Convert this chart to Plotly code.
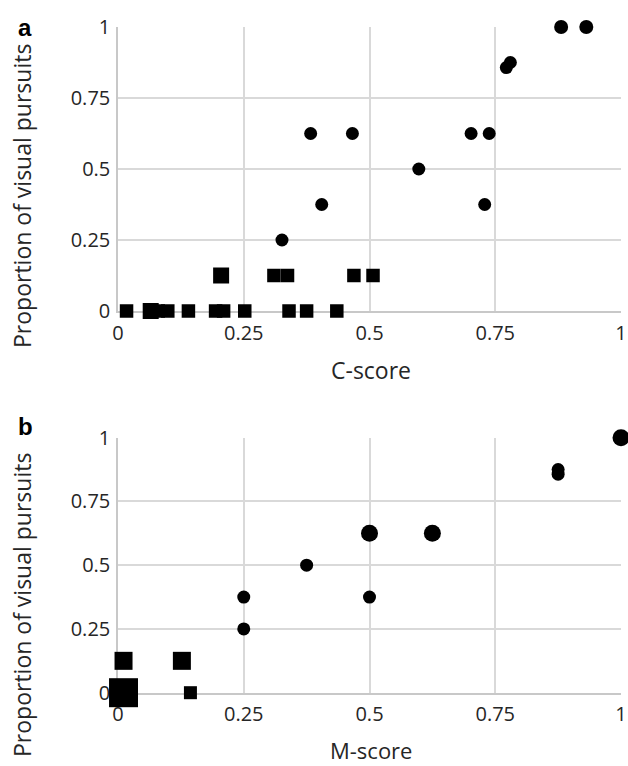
import plotly.graph_objects as go

# ---- data: panel a (C-score) ----
a_circle_x = [0.881, 0.931, 0.772, 0.780, 0.383, 0.466, 0.702, 0.738, 0.598, 0.405, 0.729, 0.326]
a_circle_y = [1.0, 1.0, 0.857, 0.875, 0.625, 0.625, 0.625, 0.625, 0.5, 0.375, 0.375, 0.25]
a_square_x = [0.205, 0.310, 0.337, 0.469, 0.507,
              0.017, 0.065, 0.080, 0.099, 0.140, 0.194, 0.210, 0.252, 0.340, 0.375, 0.435]
a_square_y = [0.125, 0.125, 0.125, 0.125, 0.125,
              0, 0, 0, 0, 0, 0, 0, 0, 0, 0, 0]

# ---- data: panel b (M-score) ----
b_circle_x = [1.0, 0.875, 0.875, 0.5, 0.625, 0.375, 0.25, 0.5, 0.25]
b_circle_y = [1.0, 0.875, 0.857, 0.625, 0.625, 0.5, 0.375, 0.375, 0.25]
b_square_x = [0.011, 0.011, 0.127, 0.144]
b_square_y = [0.0, 0.125, 0.125, 0.0]

tick_vals = [0, 0.25, 0.5, 0.75, 1]
tick_text = ["0", "0.25", "0.5", "0.75", "1"]

# ---- styles ----
a_circle_size = [14, 14, 13, 13, 13, 13, 13, 13, 13, 13, 13, 13]
a_square_size = [16, 13.5, 13.5, 13.5, 13.5,
                 13.5, 16, 13.5, 13.5, 13.5, 13.5, 13.5, 13.5, 13.5, 13.5, 13.5]
b_circle_size = [17, 13, 13, 17, 17, 13, 13, 13, 13]
b_square_size = [29, 18, 18, 13]

FONT = "Open Sans"
TXT = "#262626"
GRID = "#d9d9d9"

fig = go.Figure()

def add(x, y, sym, sizes, xa, ya):
    fig.add_trace(go.Scatter(
        x=x, y=y, mode="markers", xaxis=xa, yaxis=ya, cliponaxis=False,
        marker=dict(symbol=sym, size=sizes, color="black", opacity=1, line=dict(width=0)),
        showlegend=False, hoverinfo="x+y"))

add(a_square_x, a_square_y, "square", a_square_size, "x", "y")
add(a_circle_x, a_circle_y, "circle", a_circle_size, "x", "y")
add(b_square_x, b_square_y, "square", b_square_size, "x2", "y2")
add(b_circle_x, b_circle_y, "circle", b_circle_size, "x2", "y2")

W, H = 628, 766
def fx(px): return px / W
def fy(py): return 1 - py / H

axis_common = dict(range=[0, 1], tickvals=tick_vals, ticktext=tick_text,
                   showgrid=True, gridcolor=GRID, gridwidth=1.5,
                   zeroline=False, showline=True, linecolor="#c8c8c8", linewidth=1.5,
                   layer="below traces", ticklabeloverflow="allow",
                   ticks="", tickfont=dict(family=FONT, size=20, color=TXT),
                   fixedrange=True, automargin=False)

fig.update_layout(
    width=W, height=H, margin=dict(l=0, r=0, t=0, b=0, autoexpand=False),
    paper_bgcolor="white", plot_bgcolor="white",
    xaxis=dict(domain=[fx(118), fx(621)], anchor="y", ticklabelstandoff=3, **axis_common),
    yaxis=dict(domain=[fy(311), fy(27)], anchor="x", ticklabelstandoff=2, **axis_common),
    xaxis2=dict(domain=[fx(118), fx(621)], anchor="y2", ticklabelstandoff=3, **axis_common),
    yaxis2=dict(domain=[fy(692.7), fy(437.7)], anchor="x2", ticklabelstandoff=2, **axis_common),
)

ann = [
    dict(text="<b>a</b>", x=fx(25), y=fy(27), font=dict(family="Liberation Sans", size=24, color="black")),
    dict(text="<b>b</b>", x=fx(25), y=fy(427), font=dict(family="Liberation Sans", size=24, color="black")),
    dict(text="C-score", x=fx(371), y=fy(370), font=dict(family=FONT, size=23, color=TXT)),
    dict(text="M-score", x=fx(371), y=fy(750), font=dict(family=FONT, size=22, color=TXT)),
    dict(text="Proportion of visual pursuits", x=fx(22), y=fy(196), textangle=-90,
         font=dict(family=FONT, size=23, color=TXT)),
    dict(text="Proportion of visual pursuits", x=fx(22), y=fy(605), textangle=-90,
         font=dict(family=FONT, size=23, color=TXT)),
]
for a in ann:
    a.update(xref="paper", yref="paper", showarrow=False, xanchor="center", yanchor="middle",
             borderpad=0)
fig.update_layout(annotations=ann)

fig.write_html("out.html", config={"displayModeBar": False},
               post_script="document.body.style.margin='0';document.body.style.overflow='hidden';")
